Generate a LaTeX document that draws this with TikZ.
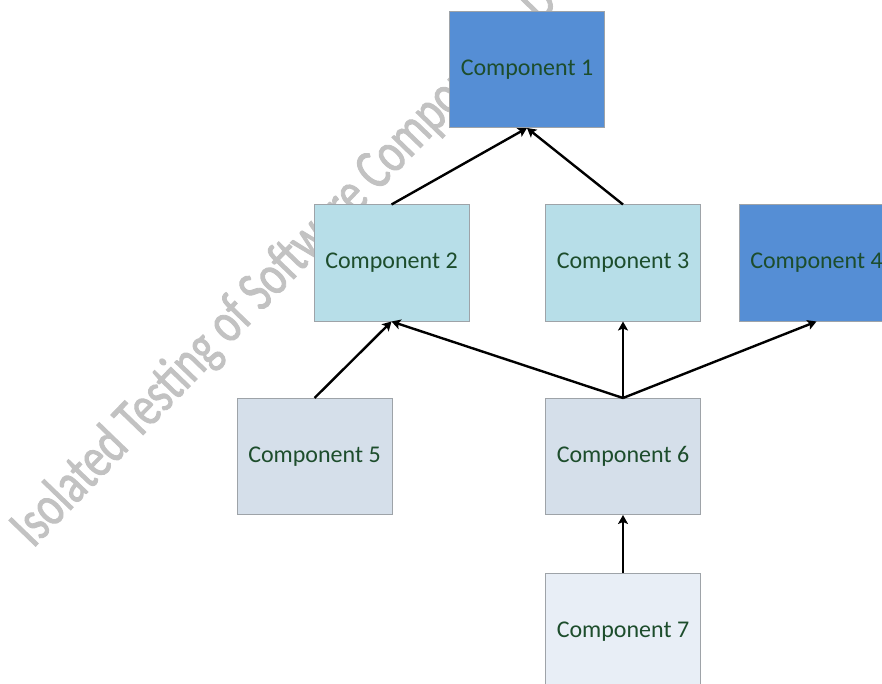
\documentclass[tikz,border=0pt]{standalone}
\usepackage{fontspec}
\setmainfont{Carlito}
\newfontfamily\wmfont[FakeStretch=0.75,FakeBold=1.5]{Carlito}
\usetikzlibrary{arrows.meta}
\definecolor{dblue}{HTML}{558ED5}
\definecolor{lblue}{HTML}{B7DEE8}
\definecolor{gblue}{HTML}{D5DFEA}
\definecolor{pblue}{HTML}{E8EEF6}
\definecolor{txtgreen}{HTML}{1D4D2C}
\definecolor{bordergray}{HTML}{9EA3A8}
\definecolor{wmgray}{HTML}{C2C2C2}
\tikzset{
  comp/.style={draw=bordergray, line width=1pt, minimum width=155pt, minimum height=116pt,
    inner sep=0pt, font=\fontsize{24}{28}\selectfont, text=txtgreen},
  link/.style={-{Stealth[length=9pt,width=10pt,inset=2pt]}, line width=2.4pt, draw=black},
  wm/.style={rotate=46, anchor=base west, font=\wmfont\fontsize{58}{60}\selectfont, inner sep=0pt, text=wmgray},
}
\begin{document}
\begin{tikzpicture}[x=1pt,y=-1pt]
\useasboundingbox (0,0) rectangle (882,684);
\fill[white] (0,0) rectangle (882,684);
% watermark
\node[wm] (wm) at (33,549) {Isolated Testing of Software Components D};
% components
\node[comp, fill=dblue] (c1) at (527,69.5) {Component 1};
\node[comp, fill=lblue] (c2) at (391.5,263) {Component 2};
\node[comp, fill=lblue] (c3) at (623,263) {Component 3};
\node[comp, fill=dblue] (c4) at (816.5,263) {Component 4};
\node[comp, fill=gblue] (c5) at (314.5,456.5) {Component 5};
\node[comp, fill=gblue] (c6) at (623,456.5) {Component 6};
\node[comp, fill=pblue] (c7) at (623,631.5) {Component 7};
% connectors
\draw[link] (c2.north) -- (c1.south);
\draw[link] (c3.north) -- (c1.south);
\draw[link] (c5.north) -- (c2.south);
\draw[link] (c6.north) -- (c2.south);
\draw[link] (c6.north) -- (c3.south);
\draw[link] (c6.north) -- (c4.south);
\draw[link] (c7.north) -- (c6.south);
\end{tikzpicture}
\end{document}
